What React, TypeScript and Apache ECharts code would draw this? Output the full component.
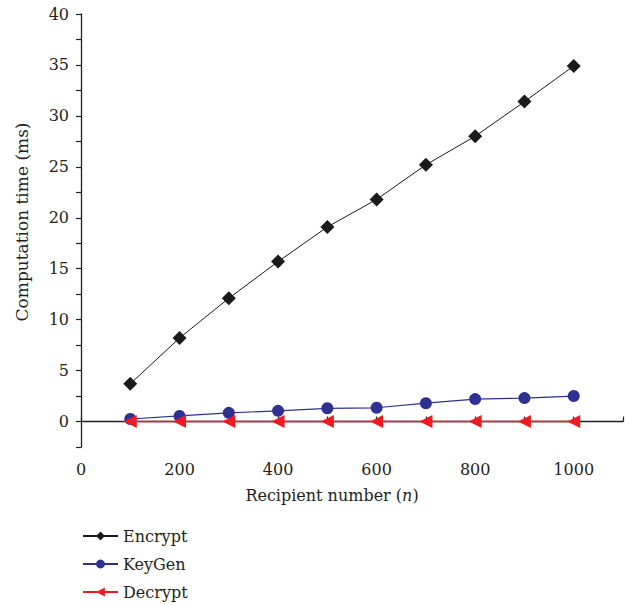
import React, { useEffect, useRef } from "react";
import * as echarts from "echarts";

const recipients = [100, 200, 300, 400, 500, 600, 700, 800, 900, 1000];
const encryptMs = [3.7, 8.2, 12.1, 15.7, 19.1, 21.8, 25.2, 28.0, 31.4, 34.9];
const keyGenMs = [0.25, 0.55, 0.85, 1.05, 1.3, 1.35, 1.8, 2.2, 2.3, 2.5];
const decryptMs = [0.01, 0.01, 0.01, 0.01, 0.01, 0.01, 0.01, 0.01, 0.01, 0.01];
const seriesNames = ["Encrypt", "KeyGen", "Decrypt"];

const FONT = "'DejaVu Serif', 'Liberation Serif', serif";
const INK = "#231f20";
const FS = 16;

export default function App() {
  const ref = useRef<HTMLDivElement>(null);
  useEffect(() => {
    if (!ref.current) return;
    const chart = echarts.init(ref.current, undefined, { renderer: "svg" });
    const pair = (vals: number[]) => recipients.map((r, i) => [r, vals[i]]);
    chart.setOption({
      animation: false,
      textStyle: { fontFamily: FONT, color: INK },
      grid: { left: 81, right: 5, top: 14, bottom: 158 },
      xAxis: {
        type: "value",
        min: 0,
        max: 1100,
        interval: 100,
        splitLine: { show: false },
        axisLine: { show: true, lineStyle: { color: INK, width: 1.3 } },
        axisTick: { show: true, inside: true, length: 5, lineStyle: { color: INK, width: 1.2 } },
        axisLabel: {
          color: INK,
          fontFamily: FONT,
          fontSize: FS,
          margin: 14,
          formatter: (v: number) => (v % 200 === 0 && v <= 1000 ? String(v) : ""),
        },
      },
      yAxis: {
        type: "value",
        min: -2.5,
        max: 40,
        interval: 2.5,
        splitLine: { show: false },
        axisLine: { show: true, lineStyle: { color: INK, width: 1.3 } },
        axisTick: { show: true, inside: false, length: 5, lineStyle: { color: INK, width: 1.2 } },
        axisLabel: {
          color: INK,
          fontFamily: FONT,
          fontSize: FS,
          margin: 12,
          formatter: (v: number) => (v >= 0 && v % 5 === 0 ? String(v) : ""),
        },
      },
      legend: {
        orient: "vertical",
        left: 82,
        top: 528,
        height: 80,
        padding: 0,
        itemWidth: 35,
        itemHeight: 11,
        itemGap: 12,
        data: seriesNames,
        textStyle: { fontFamily: FONT, fontSize: FS, color: INK },
      },
      graphic: [
        {
          type: "text",
          x: 332,
          y: 495,
          style: {
            text: "{a|Recipient number (}{i|n}{a|)}",
            textAlign: "center",
            textVerticalAlign: "middle",
            rich: {
              a: { fontFamily: FONT, fontSize: FS, fill: INK },
              i: { fontFamily: FONT, fontSize: FS, fontStyle: "italic", fill: INK },
            },
          },
        },
        {
          type: "text",
          x: 22,
          y: 222,
          rotation: Math.PI / 2,
          style: {
            text: "Computation time (ms)",
            textAlign: "center",
            textVerticalAlign: "middle",
            fontFamily: FONT,
            fontSize: 17,
            fill: INK,
          },
        },
      ],
      series: [
        {
          name: seriesNames[0],
          type: "line",
          data: pair(encryptMs),
          symbol: "diamond",
          symbolSize: 14,
          lineStyle: { color: "#1a1a1a", width: 1 },
          itemStyle: { color: "#1a1a1a" },
          z: 2,
        },
        {
          name: seriesNames[1],
          type: "line",
          data: pair(keyGenMs),
          symbol: "circle",
          symbolSize: 12,
          lineStyle: { color: "#2e3192", width: 1.2 },
          itemStyle: { color: "#2e3192" },
          z: 3,
        },
        {
          name: seriesNames[2],
          type: "line",
          data: pair(decryptMs),
          symbol: "triangle",
          symbolRotate: 90,
          symbolSize: 13,
          lineStyle: { color: "#ed1c24", width: 1.5 },
          itemStyle: { color: "#ed1c24" },
          z: 4,
        },
      ],
    });
    return () => chart.dispose();
  }, []);
  return (
    <div
      ref={ref}
      style={{ position: "absolute", left: 0, top: 0, width: 628, height: 605 }}
    />
  );
}
